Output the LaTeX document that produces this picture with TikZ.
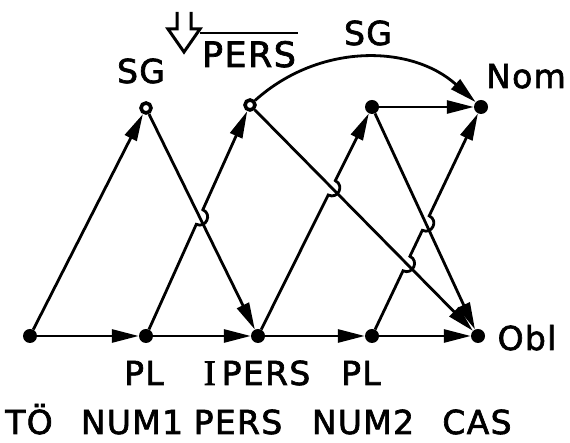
\documentclass[tikz,border=0pt]{standalone}
\usepackage{fontspec}
\setmainfont{DejaVu Sans}[LetterSpace=4,FakeBold=2]
\newfontfamily\serifI{Liberation Serif}[FakeBold=2]
\usetikzlibrary{arrows.meta,calc}
\newcommand\mkhop[5]{%
  \coordinate (#1) at (intersection of #2--#3 and #4--#5);
  \coordinate (#1a) at ($(#1)!8pt!(#2)$);
  \coordinate (#1b) at ($(#1)!8pt!(#3)$);
  \coordinate (#1ac) at ($(#1a)!10.7pt!-90:(#1)$);
  \coordinate (#1bc) at ($(#1b)!10.7pt!90:(#1)$);
}
\begin{document}
\begin{tikzpicture}[x=1pt,y=1pt,
  dot/.style={circle,fill=black,inner sep=0pt,minimum size=14pt},
  odot/.style={circle,draw=black,fill=white,line width=3.6pt,inner sep=0pt,minimum size=10pt},
  edge/.style={line width=2.8pt,-{Triangle[length=27pt,width=13pt]}},
  lab/.style={font=\fontsize{33}{38}\selectfont,anchor=base,inner sep=0pt},
  biglab/.style={font=\fontsize{35}{38}\selectfont,anchor=base,inner sep=0pt},
]
\useasboundingbox (0,0) rectangle (570,443);
% centres
\coordinate (cT)  at (30,107);
\coordinate (cP1) at (146,107);
\coordinate (cS1) at (146,335);
\coordinate (cI)  at (258,107);
\coordinate (cQ)  at (250,338);
\coordinate (cS2) at (372,336);
\coordinate (cN)  at (481,336);
\coordinate (cP2) at (372,107);
\coordinate (cO)  at (478,107);
% nodes
\node[dot]  (T)  at (cT)  {};
\node[dot]  (P1) at (cP1) {};
\node[odot] (S1) at (cS1) {};
\node[dot]  (I)  at (cI)  {};
\node[odot] (Q)  at (cQ)  {};
\node[dot]  (S2) at (cS2) {};
\node[dot]  (N)  at (cN)  {};
\node[dot]  (P2) at (cP2) {};
\node[dot]  (O)  at (cO)  {};
% hops
\mkhop{Xa}{cP1}{cQ}{cS1}{cI}
\mkhop{Xb}{cI}{cS2}{cQ}{cO}
\mkhop{Xc}{cP2}{cN}{cQ}{cO}
\mkhop{Xd}{cP2}{cN}{cS2}{cO}
% edges
\draw[edge] (T) -- (P1);
\draw[edge] (T) -- (S1);
\draw[edge] (S1) -- (I);
\draw[edge] (P1) -- (I);
\draw[edge] (P1) -- (Xaa) .. controls (Xaac) and (Xabc) .. (Xab) -- (Q);
\draw[edge] (I) -- (P2);
\draw[edge] (I) -- (Xba) .. controls (Xbac) and (Xbbc) .. (Xbb) -- (S2);
\draw[edge] (Q) to[out=42,in=138] (N);
\draw[edge] (Q) -- (O);
\draw[edge] (S2) -- (N);
\draw[edge] (S2) -- (O);
\draw[edge] (P2) -- (O);
\draw[edge] (P2) -- (Xca) .. controls (Xcac) and (Xcbc) .. (Xcb) -- (Xda) .. controls (Xdac) and (Xdbc) .. (Xdb) -- (N);
% hollow down arrow symbol
\draw[line width=3pt,line join=miter] (177,431) -- (177,414) -- (168,414) -- (184,391) -- (200,414) -- (191,414) -- (191,431);
% labels
\node[lab] (lSG1) at (141,360) {SG};
\node[biglab] (lPERS) at (249,376) {PERS};
\draw[line width=2.8pt] (200,410) -- (298,410);
\node[lab] (lSG2) at (368,398) {SG};
\node[lab] (lNom) at (526,355) {Nom};
\node[lab] (lObl) at (527,93) {Obl};
\node[lab] (lPL1) at (144,58) {PL};
\node[lab] (lIP)  at (257,58) {{\serifI\fontsize{36}{38}\selectfont I}\hspace{6pt}PERS};
\node[lab] (lPL2) at (361,58) {PL};
\node[lab] (lTO)  at (29,9) {TÖ};
\node[lab] (lN1)  at (132,9) {NUM1};
\node[lab] (lPE)  at (238,9) {PERS};
\node[lab] (lN2)  at (363,9) {NUM2};
\node[lab] (lCA)  at (477,9) {CAS};
\end{tikzpicture}
\end{document}
